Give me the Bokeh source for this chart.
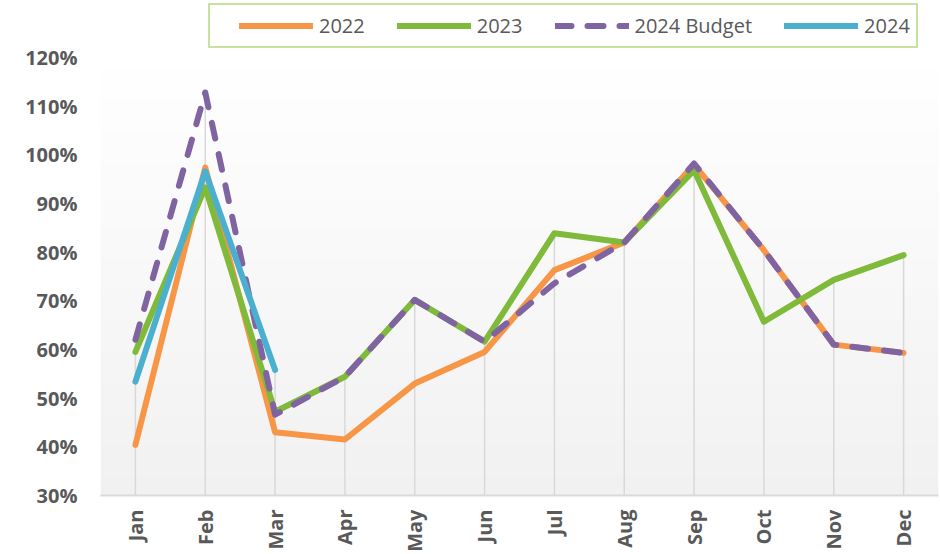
import numpy as np
from bokeh.plotting import figure
from bokeh.models import Legend, LegendItem, FixedTicker, Range1d
from bokeh.embed import file_html
from bokeh.resources import INLINE

months = ["Jan", "Feb", "Mar", "Apr", "May", "Jun", "Jul", "Aug", "Sep", "Oct", "Nov", "Dec"]
y2022 = [40.4, 97.4, 43.0, 41.5, 53.0, 59.5, 76.3, 82.0, 98.0, 80.4, 61.0, 59.3]
y2023 = [59.5, 93.3, 47.2, 54.4, 70.2, 61.6, 83.9, 82.0, 96.8, 65.7, 74.3, 79.4]
ybudget = [62.0, 112.8, 46.6, 54.4, 70.2, 61.6, 73.6, 82.0, 98.2, 80.4, 61.0, 59.3]
y2024 = [53.4, 96.6, 55.8]
yticks = [30, 40, 50, 60, 70, 80, 90, 100, 110, 120]

x_all = list(range(len(months)))
x_2024 = list(range(len(y2024)))

# drop lines: from the highest series value of each month down to the axis
series = [y2022, y2023, ybudget, y2024]
drop_top = [max(s[i] for s in series if i < len(s)) for i in x_all]

W, H = 940, 554
p = figure(width=W, height=H, output_backend="svg", toolbar_location=None,
           x_range=Range1d(-0.5, 11.5), y_range=Range1d(30, 131.7),
           min_border_left=100, min_border_right=2, min_border_top=0, min_border_bottom=58)
p.outline_line_color = None
p.background_fill_color = "white"
p.border_fill_color = "white"

# background gradient of plot area (white -> light grey)
n = 200
grad = np.zeros((n, 1), dtype=np.uint32)
view = grad.view(dtype=np.uint8).reshape((n, 1, 4))
for i in range(n):
    t = i / (n - 1)  # 0 bottom -> 1 top
    c = int(round(241 + (255 - 241) * t))
    view[i, 0, 0] = c
    view[i, 0, 1] = c
    view[i, 0, 2] = c
    view[i, 0, 3] = 255
p.image_rgba(image=[grad], x=-0.5, y=30, dw=12.0, dh=91.0, level="image")

# axes
p.xaxis.ticker = FixedTicker(ticks=x_all)
p.xaxis.major_label_overrides = {i: m for i, m in enumerate(months)}
p.xaxis.major_label_orientation = np.pi / 2
p.xaxis.major_tick_line_color = None
p.xaxis.minor_tick_line_color = None
p.xaxis.major_tick_out = 0
p.xaxis.minor_tick_out = 0
p.xaxis.axis_line_color = "#d9d9d9"
p.xaxis.axis_line_width = 2
p.xaxis.major_label_standoff = 14
p.xaxis.major_label_text_font = "Open Sans"
p.xaxis.major_label_text_font_style = "bold"
p.xaxis.major_label_text_font_size = "20px"
p.xaxis.major_label_text_color = "#595959"

p.yaxis.ticker = FixedTicker(ticks=yticks)
p.yaxis.major_label_overrides = {v: f"{v}%" for v in yticks}
p.yaxis.axis_line_color = None
p.yaxis.major_tick_line_color = None
p.yaxis.minor_tick_line_color = None
p.yaxis.major_tick_out = 0
p.yaxis.minor_tick_out = 0
p.yaxis.major_label_standoff = 23
p.yaxis.major_label_text_font = "Open Sans"
p.yaxis.major_label_text_font_style = "bold"
p.yaxis.major_label_text_font_size = "20px"
p.yaxis.major_label_text_color = "#595959"

p.xgrid.grid_line_color = None
p.ygrid.grid_line_color = None

p.segment(x0=x_all, y0=drop_top, x1=x_all, y1=[p.y_range.start] * len(x_all),
          line_color="#d9d9d9", line_width=1.5)

lw = 6
r1 = p.line(x_all, y2022, line_color="#F79646", line_width=lw, line_cap="round", line_join="round")
r2 = p.line(x_all, y2023, line_color="#7FBA3A", line_width=lw, line_cap="round", line_join="round")
r3 = p.line(x_all, ybudget, line_color="#8064A2", line_width=lw, line_cap="round", line_join="round",
            line_dash="16 16")
r4 = p.line(x_2024, y2024, line_color="#4BAFCF", line_width=lw, line_cap="round", line_join="round")

legend = Legend(items=[LegendItem(label="2022", renderers=[r1]),
                       LegendItem(label="2023", renderers=[r2]),
                       LegendItem(label="2024 Budget", renderers=[r3]),
                       LegendItem(label="2024", renderers=[r4])],
                orientation="horizontal", location=(108, 447),
                glyph_width=74, glyph_height=29, label_height=29,
                label_standoff=6, spacing=32,
                padding=6, margin=0,
                title="\u00a0", title_location="left", title_standoff=0,
                title_text_font_size="20px",
                label_text_font="Open Sans", label_text_font_size="20px",
                label_text_color="#595959",
                border_line_color="#8DC63F", border_line_width=2,
                background_fill_color="white", background_fill_alpha=1.0)
p.add_layout(legend, "center")

html = file_html(p, INLINE)
open("out.html", "w").write(html)
